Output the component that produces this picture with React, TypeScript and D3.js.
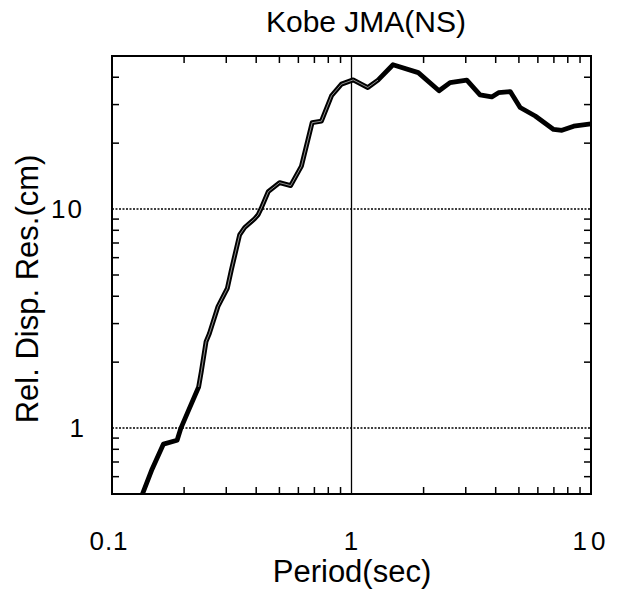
import React from "react";
import * as d3 from "d3";

const periods = [0.134, 0.147, 0.164, 0.187, 0.194, 0.207, 0.23, 0.236, 0.247, 0.255, 0.277, 0.303, 0.315, 0.341, 0.358, 0.394, 0.407, 0.42, 0.449, 0.501, 0.557, 0.618, 0.685, 0.749, 0.825, 0.908, 1.016, 1.17, 1.29, 1.49, 1.9, 2.32, 2.58, 3.03, 3.44, 3.85, 4.11, 4.6, 5.06, 5.85, 6.98, 7.56, 8.47, 10];
const responses = [0.5, 0.649, 0.845, 0.88, 1.0, 1.18, 1.54, 1.81, 2.48, 2.7, 3.59, 4.34, 5.27, 7.62, 8.24, 9.03, 9.4, 10.1, 12.0, 13.2, 12.8, 15.7, 24.8, 25.2, 32.9, 37.2, 38.9, 35.9, 38.8, 45.6, 42.0, 34.7, 37.8, 38.8, 33.2, 32.5, 34.0, 34.4, 29.1, 26.6, 23.1, 22.9, 23.9, 24.5];
const xTickValues = [0.1, 1, 10];
const xTickLabels = ["0.1", "1", "10"];
const yTickValues = [1, 10];
const yTickLabels = ["1", "10"];
const xMinor = [0.2, 0.3, 0.4, 0.5, 0.6, 0.7, 0.8, 0.9, 2, 3, 4, 5, 6, 7, 8, 9];
const yMinor = [0.6, 0.7, 0.8, 0.9, 2, 3, 4, 5, 6, 7, 8, 9, 20, 30, 40];
const title = "Kobe JMA(NS)";
const xTitle = "Period(sec)";
const yTitle = "Rel. Disp. Res.(cm)";

const W = 625, H = 593;
const L = 112, R = 591, T = 56, B = 494;
const font = "'Liberation Sans', Arial, Helvetica, sans-serif";

export default function App() {
  const x = d3.scaleLog().domain([0.1, 10]).range([L, R]);
  const y = d3.scaleLog().domain([0.5, 50]).range([B, T]);
  const data = periods.map((p, i) => [p, responses[i]] as [number, number]);
  const line = d3.line<[number, number]>().x(d => x(d[0])).y(d => y(d[1]));
  const inner = data.filter(d => d[0] >= 0.22 && d[0] <= 1.3);
  const tl = 7;
  return (
    <svg width={W} height={H} style={{ position: "absolute", left: 0, top: 0, background: "#fff" }}>
      <defs>
        <clipPath id="plot"><rect x={L} y={T} width={R - L} height={B - T} /></clipPath>
      </defs>
      {/* gridlines */}
      {yTickValues.map(v => (
        <line key={"gy" + v} x1={L} x2={R} y1={y(v)} y2={y(v)} stroke="#000" strokeWidth={1.5} strokeDasharray="2,1.5" />
      ))}
      <line x1={x(1)} x2={x(1)} y1={T} y2={B} stroke="#000" strokeWidth={1.3} />
      {/* minor ticks */}
      {xMinor.map(v => (
        <g key={"mx" + v}>
          <line x1={x(v)} x2={x(v)} y1={B} y2={B - tl} stroke="#000" strokeWidth={1.5} />
          <line x1={x(v)} x2={x(v)} y1={T} y2={T + tl} stroke="#000" strokeWidth={1.5} />
        </g>
      ))}
      {yMinor.map(v => (
        <g key={"my" + v}>
          <line x1={L} x2={L + tl} y1={y(v)} y2={y(v)} stroke="#000" strokeWidth={1.5} />
          <line x1={R} x2={R - tl} y1={y(v)} y2={y(v)} stroke="#000" strokeWidth={1.5} />
        </g>
      ))}
      {/* curve */}
      <path d={line(data) || ""} fill="none" stroke="#000" strokeWidth={4.8} strokeLinejoin="round" clipPath="url(#plot)" />
      <path d={line(inner) || ""} fill="none" stroke="#fff" strokeWidth={0.8} strokeOpacity={0.7} strokeLinejoin="round" clipPath="url(#plot)" />
      {/* frame */}
      <rect x={L} y={T} width={R - L} height={B - T} fill="none" stroke="#000" strokeWidth={2} />
      {/* tick labels */}
      {xTickValues.map((v, i) => (
        <text key={"xl" + v} x={x(v) + (i === 0 ? -3 : 0)} y={550} textAnchor="middle" fontFamily={font} fontSize={26} letterSpacing={i === 2 ? 4 : 1}>{xTickLabels[i]}</text>
      ))}
      {yTickValues.map((v, i) => (
        <text key={"yl" + v} x={84} y={y(v)} dy="0.36em" textAnchor="end" fontFamily={font} fontSize={26} letterSpacing={i === 1 ? 2 : 0}>{yTickLabels[i]}</text>
      ))}
      {/* titles */}
      <text x={366} y={32} textAnchor="middle" fontFamily={font} fontSize={30}>{title}</text>
      <text x={352} y={582} textAnchor="middle" fontFamily={font} fontSize={31}>{xTitle}</text>
      <text transform={`translate(38,289) rotate(-90)`} textAnchor="middle" fontFamily={font} fontSize={31}>{yTitle}</text>
    </svg>
  );
}
